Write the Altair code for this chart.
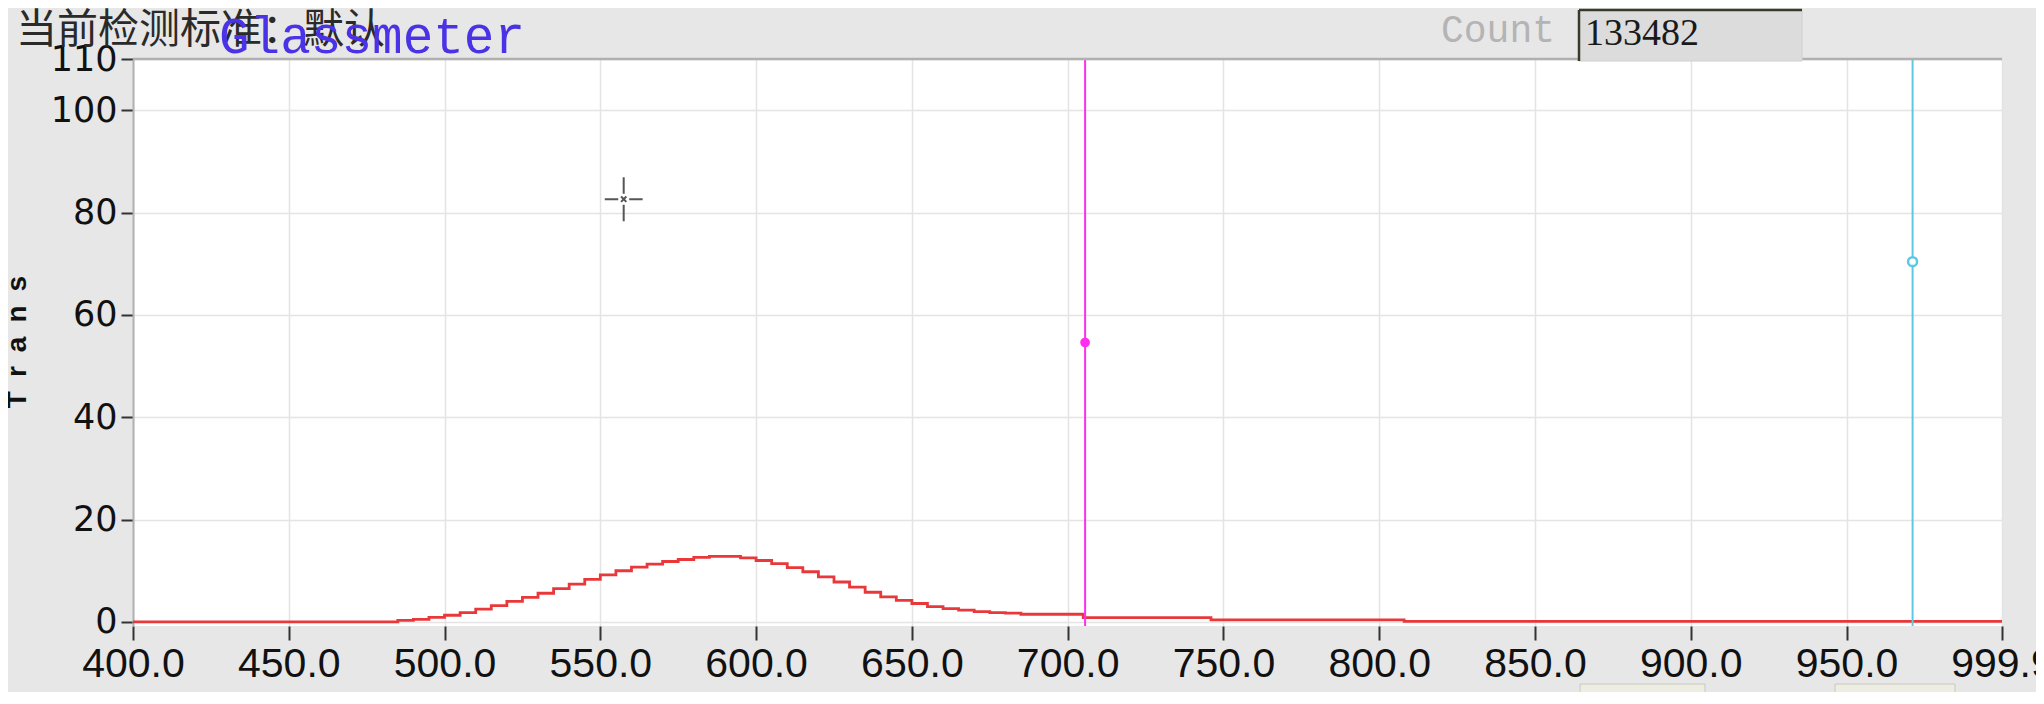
import altair as alt
import pandas as pd

# ---- data ----
wavelength = [400, 485, 490, 495, 500, 505, 510, 515, 520, 525, 530, 535, 540, 545,
              550, 555, 560, 565, 570, 575, 580, 585, 590, 595, 600, 605, 610, 615,
              620, 625, 630, 635, 640, 645, 650, 655, 660, 665, 670, 675, 680, 685,
              705, 746, 808, 999.9]
trans = [0.0, 0.3, 0.5, 0.9, 1.3, 1.8, 2.5, 3.2, 4.0, 4.8, 5.6, 6.5, 7.4, 8.3,
         9.2, 10.0, 10.7, 11.3, 11.8, 12.2, 12.6, 12.8, 12.8, 12.5, 12.0, 11.4, 10.6, 9.8,
         8.8, 7.8, 6.8, 5.8, 4.9, 4.2, 3.6, 3.0, 2.6, 2.3, 2.0, 1.8, 1.7, 1.5,
         0.85, 0.4, 0.1, 0.1]

x_ticks = [400, 450, 500, 550, 600, 650, 700, 750, 800, 850, 900, 950, 999.9]
y_ticks = [0, 20, 40, 60, 80, 100, 110]

marker1_wl = [705.6]
marker1_tr = [54.6]
marker2_wl = [971.2]
marker2_tr = [70.4]
cross_wl = [557.5]
cross_tr = [82.6]

header_text = "当前检测标准：默认"
brand_text = "Glassmeter"
count_label = "Count"
count_value = "133482"
y_title = "T\u2002r\u2002a\u2002n\u2002s"

W, H = 1869, 567

xscale = alt.Scale(domain=[400, 999.9], nice=False, zero=False)
yscale = alt.Scale(domain=[-0.8, 110], nice=False, zero=False)

df = pd.DataFrame({"wl": wavelength, "tr": trans})

line = alt.Chart(df).mark_line(interpolate="step-after", color="#e8383a", strokeWidth=2.8).encode(
    x=alt.X("wl:Q", scale=xscale,
            axis=alt.Axis(values=x_ticks, format=".1f", title=None, grid=True,
                          gridColor="#e4e4e4", gridWidth=1.5, domain=False,
                          tickColor="#333333", tickWidth=2, tickSize=14,
                          labelFont="Liberation Sans Narrow, Liberation Sans", labelFontSize=41,
                          labelColor="#111111", labelPadding=4, labelFlush=False,
                          labelOverlap=False)),
    y=alt.Y("tr:Q", scale=yscale,
            axis=alt.Axis(values=y_ticks, format="d", title=None, grid=True,
                          gridColor="#e4e4e4", gridWidth=1.5, domain=True,
                          domainColor="#b0b0b0", domainWidth=2,
                          tickColor="#333333", tickWidth=2, tickSize=12,
                          labelFont="DejaVu Sans", labelFontSize=35,
                          labelColor="#111111", labelPadding=4, labelFlush=False,
                          labelOverlap=False)),
)

rule1 = alt.Chart(pd.DataFrame({"wl": marker1_wl})).mark_rule(color="#ff2ef0", strokeWidth=2).encode(
    x=alt.X("wl:Q", scale=xscale))
rule2 = alt.Chart(pd.DataFrame({"wl": marker2_wl})).mark_rule(color="#5cc8e2", strokeWidth=2).encode(
    x=alt.X("wl:Q", scale=xscale))

dot1 = alt.Chart(pd.DataFrame({"wl": marker1_wl, "tr": marker1_tr})).mark_point(
    shape="circle", filled=True, fill="#ff2ef0", stroke="#ff2ef0", size=60, opacity=1).encode(
    x=alt.X("wl:Q", scale=xscale), y=alt.Y("tr:Q", scale=yscale))
dot2 = alt.Chart(pd.DataFrame({"wl": marker2_wl, "tr": marker2_tr})).mark_point(
    shape="circle", filled=True, fill="white", stroke="#5cc8e2", strokeWidth=2.5, size=80,
    opacity=1).encode(
    x=alt.X("wl:Q", scale=xscale), y=alt.Y("tr:Q", scale=yscale))

cross_path = ("M-0.86,0L-0.25,0M0.25,0L0.86,0M0,-1L0,-0.25M0,0.25L0,1"
              "M-0.12,-0.12L0.12,0.12M-0.12,0.12L0.12,-0.12")
cross = alt.Chart(pd.DataFrame({"wl": cross_wl, "tr": cross_tr})).mark_point(
    shape=cross_path, filled=False, stroke="#555555", strokeWidth=2, size=1936, opacity=1).encode(
    x=alt.X("wl:Q", scale=xscale), y=alt.Y("tr:Q", scale=yscale))

one = pd.DataFrame({"k": [0]})

top_border = alt.Chart(one).mark_rule(color="#b0b0b0", strokeWidth=2.5).encode(
    x=alt.value(0), x2=alt.value(W), y=alt.value(0))

header = alt.Chart(one).mark_text(
    text=header_text, align="left", baseline="middle", font="Noto Sans CJK SC",
    fontSize=41, color="#2a2a2a").encode(x=alt.value(-117), y=alt.value(-28))

brand = alt.Chart(one).mark_text(
    text=brand_text, align="left", baseline="alphabetic", font="Liberation Mono",
    fontSize=51, color="#4a32e6").encode(x=alt.value(86), y=alt.value(-6))

count_lbl = alt.Chart(one).mark_text(
    text=count_label, align="left", baseline="middle", font="Liberation Mono",
    fontSize=38, color="#b4b4b4").encode(x=alt.value(1308), y=alt.value(-28))

count_box = alt.Chart(one).mark_rect(fill="#dcdcdc", stroke="#d0d0d0", strokeWidth=1).encode(
    x=alt.value(1446), x2=alt.value(1669), y=alt.value(-49), y2=alt.value(2))
count_box_top = alt.Chart(one).mark_rule(color="#3a3a2a", strokeWidth=2.5).encode(
    x=alt.value(1446), x2=alt.value(1669), y=alt.value(-49))
count_box_left = alt.Chart(one).mark_rule(color="#3a3a2a", strokeWidth=2.5).encode(
    x=alt.value(1446), y=alt.value(-49), y2=alt.value(2))
count_val = alt.Chart(one).mark_text(
    text=count_value, align="left", baseline="middle", font="Liberation Serif",
    fontSize=38, color="#1a1a1a").encode(x=alt.value(1452), y=alt.value(-25))

y_label = alt.Chart(one).mark_text(
    text=y_title, align="center", baseline="middle", angle=270, font="Liberation Sans",
    fontWeight="bold", fontSize=28, color="#111111").encode(x=alt.value(-115), y=alt.value(283))

box_b1 = alt.Chart(one).mark_rect(fill="#eeede2", stroke="#c8c8c0", strokeWidth=1).encode(
    x=alt.value(1447), x2=alt.value(1572), y=alt.value(625), y2=alt.value(640))
box_b2 = alt.Chart(one).mark_rect(fill="#eeede2", stroke="#c8c8c0", strokeWidth=1).encode(
    x=alt.value(1702), x2=alt.value(1822), y=alt.value(625), y2=alt.value(640))

chart = alt.layer(
    line, rule1, rule2, dot1, dot2, cross, top_border,
    header, brand, count_lbl, count_box, count_box_top, count_box_left, count_val,
    y_label, box_b1, box_b2,
).properties(
    width=W, height=H,
    padding={"left": 125, "top": 51, "right": 34, "bottom": 66},
    autosize=alt.AutoSizeParams(type="none"),
    background="#e7e7e7",
).configure_view(stroke=None, fill="white")

chart.save("out.html", embed_options={"renderer": "svg", "actions": False})
